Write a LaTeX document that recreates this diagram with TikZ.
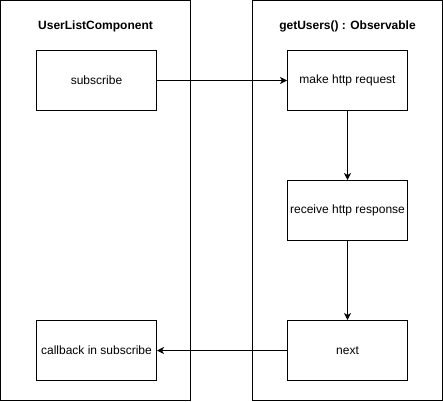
\documentclass[tikz,border=0pt]{standalone}
\usepackage{fontspec}
\setmainfont{Liberation Sans}
\usetikzlibrary{arrows.meta}

\tikzset{every picture/.style={line width=1pt}}
\tikzset{stepbox/.style={draw, minimum width=120pt, minimum height=60pt, inner sep=0pt, font=\fontsize{12pt}{14pt}\selectfont},
  lane/.style={draw, minimum width=190pt, minimum height=400pt, inner sep=0pt},
  lanetitle/.style={font=\bfseries\fontsize{12pt}{14pt}\selectfont, inner sep=0.75pt},
  flow/.style={-{Stealth[length=7pt,width=7pt,inset=2pt]}}}

\begin{document}
\begin{tikzpicture}[x=1pt,y=1pt,yscale=-1,xscale=1]
\useasboundingbox (0,0) rectangle (443,401);

%Lanes
\node [lane] (compLane) at (95.5,200.5) {};
\node [lane] (obsLane) at (347.5,200.5) {};
% Text Node
\node [lanetitle] (compTitle) at (95.5,26.5) {UserListComponent};
% Text Node
\node [lanetitle] (obsTitle) at (347.5,26.5) {getUsers() : Observable};

%Steps
\node [stepbox] (subscribe) at (96.5,80.5) {subscribe};
\node [stepbox] (request) at (347.5,80.5) {make http request};
\node [stepbox] (response) at (347.5,210.5) {receive http response};
\node [stepbox] (next) at (347.5,350.5) {next};
\node [stepbox] (callback) at (96.5,350.5) {callback in subscribe};

%Connectors
\draw [flow] (subscribe) -- (request);
\draw [flow] (request) -- (response);
\draw [flow] (response) -- (next);
\draw [flow] (next) -- (callback);

\end{tikzpicture}
\end{document}
